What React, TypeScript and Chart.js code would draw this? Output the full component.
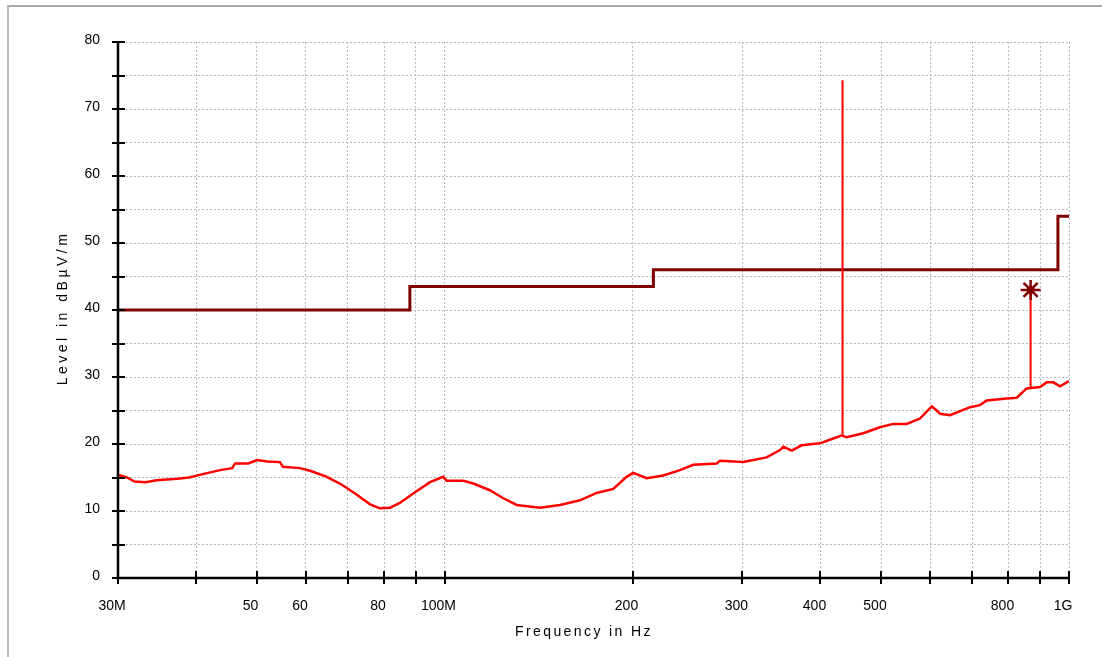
import React, { useEffect, useRef } from "react";
import { Chart, registerables } from "chart.js";

Chart.register(...registerables);

// Measurement trace (frequency in MHz, level in dBµV/m)
const traceFreqs = [
  30, 31.0, 31.9, 33.2, 34.6, 37.3, 39.0, 41.0, 43.7, 45.7, 46.2, 48.5, 50.1, 52.0, 54.5, 55.1,
  58.7, 60.9, 64.4, 68.0, 71.9, 76.0, 78.8, 81.8, 84.8, 89.7, 94.8, 99.5, 100.8, 107.2, 111.2,
  118.2, 124.2, 130.5, 142.2, 153.1, 164.8, 175.2, 186.3, 195.7, 200.5, 210.7, 224.0, 238.2,
  250.2, 272.8, 276.1, 300.9, 327.9, 344.5, 348.8, 359.7, 373.1, 399.2, 424.6, 432.4, 440.4,
  468.2, 498.0, 523.1, 549.6, 577.3, 602.8, 614.1, 621.6, 645.0, 669.3, 694.3, 720.3, 738.1,
  794.7, 824.6, 855.5, 898.6, 921.0, 943.9, 967.5, 1000,
];
const traceLevels = [
  15.4, 15.0, 14.4, 14.3, 14.6, 14.8, 15.0, 15.5, 16.1, 16.4, 17.1, 17.1, 17.6, 17.4, 17.3, 16.6,
  16.4, 16.0, 15.2, 14.1, 12.6, 11.0, 10.4, 10.5, 11.2, 12.8, 14.3, 15.1, 14.5, 14.5, 14.1,
  13.1, 11.9, 10.9, 10.5, 10.9, 11.6, 12.7, 13.3, 15.1, 15.7, 14.9, 15.3, 16.1,
  16.9, 17.1, 17.5, 17.3, 18.0, 19.1, 19.6, 19.0, 19.8, 20.1, 21.0, 21.3, 21.0,
  21.6, 22.5, 23.0, 23.0, 23.8, 25.6, 25.0, 24.5, 24.3, 24.9, 25.5, 25.8, 26.5,
  26.8, 26.9, 28.3, 28.5, 29.2, 29.2, 28.6, 29.4,
];

// Narrow-band spike
const spikeFreqs = [433.9, 433.9];
const spikeLevels = [21.3, 74.3];

// Marker (final measurement)
const markerFreqs = [868, 868];
const markerLevels = [28.5, 43.0];
const markerPointFreq = [868];
const markerPointLevel = [43.0];

// Limit line (stepped)
const limitFreqs = [30, 88, 88, 216, 216, 960, 960, 1000];
const limitLevels = [40, 40, 43.5, 43.5, 46, 46, 54, 54];

// Axes
const xTickValues = [30, 40, 50, 60, 70, 80, 90, 100, 200, 300, 400, 500, 600, 700, 800, 900, 1000];
const xTickLabels = ["30M", "", "50", "60", "", "80", "", "100M", "200", "300", "400", "500", "", "", "800", "", "1G"];
const yMin = 0;
const yMax = 80;
const yStep = 5;

const FONT = '"Liberation Sans", Arial, sans-serif';

const toPoints = (xs: number[], ys: number[]) => xs.map((x, i) => ({ x, y: ys[i] }));

const axesPlugin = {
  id: "customAxes",
  afterDatasetsDraw(chart: any) {
    const { ctx, chartArea } = chart;
    const xs = chart.scales.x;
    const ys = chart.scales.y;
    ctx.save();
    ctx.strokeStyle = "#000";
    ctx.lineWidth = 2.5;
    ctx.beginPath();
    ctx.moveTo(chartArea.left, chartArea.top);
    ctx.lineTo(chartArea.left, chartArea.bottom);
    ctx.lineTo(chartArea.right, chartArea.bottom);
    ctx.stroke();
    ctx.lineWidth = 2;
    for (let v = yMin; v <= yMax; v += yStep) {
      const py = Math.round(ys.getPixelForValue(v));
      ctx.beginPath();
      ctx.moveTo(chartArea.left - 6, py);
      ctx.lineTo(chartArea.left + 7, py);
      ctx.stroke();
    }
    for (const v of xTickValues) {
      const px = Math.round(xs.getPixelForValue(v));
      ctx.beginPath();
      ctx.moveTo(px, chartArea.bottom - 7);
      ctx.lineTo(px, chartArea.bottom + 6);
      ctx.stroke();
    }
    ctx.restore();
  },
  afterDraw(chart: any) {
    const { ctx } = chart;
    ctx.save();
    ctx.fillStyle = "#000";
    ctx.font = `14px ${FONT}`;
    ctx.textAlign = "center";
    ctx.textBaseline = "middle";
    (ctx as any).letterSpacing = "2.4px";
    ctx.fillText("Frequency in Hz", 584, 632);
    ctx.translate(63, 308);
    ctx.rotate(-Math.PI / 2);
    (ctx as any).letterSpacing = "3.5px";
    ctx.fillText("Level in dBµV/m", 0, 0);
    ctx.restore();
  },
};

export default function App() {
  const canvasRef = useRef<HTMLCanvasElement | null>(null);

  useEffect(() => {
    if (!canvasRef.current) return;
    const chart = new Chart(canvasRef.current, {
      type: "line",
      data: {
        datasets: [
          {
            data: toPoints(markerPointFreq, markerPointLevel),
            borderColor: "#800000",
            backgroundColor: "#800000",
            pointStyle: "star",
            pointRadius: 10,
            borderWidth: 2.5,
            showLine: false,
          } as any,
          {
            data: toPoints(markerPointFreq, markerPointLevel),
            borderColor: "#800000",
            backgroundColor: "#800000",
            pointStyle: "circle",
            pointRadius: 4,
            borderWidth: 0,
            showLine: false,
          } as any,
          {
            data: toPoints(markerFreqs, markerLevels),
            borderColor: "#ff0000",
            borderWidth: 2,
            pointRadius: 0,
          },
          {
            data: toPoints(spikeFreqs, spikeLevels),
            borderColor: "#ff0000",
            borderWidth: 2,
            pointRadius: 0,
          },
          {
            data: toPoints(traceFreqs, traceLevels),
            borderColor: "#ff0000",
            borderWidth: 2.5,
            pointRadius: 0,
            tension: 0,
          },
          {
            data: toPoints(limitFreqs, limitLevels),
            borderColor: "#800000",
            borderWidth: 3,
            pointRadius: 0,
            tension: 0,
          },
        ],
      },
      options: {
        animation: false,
        responsive: false,
        maintainAspectRatio: false,
        devicePixelRatio: 1,
        layout: { padding: { top: 42, right: 33, left: 0, bottom: 0 } },
        plugins: { legend: { display: false }, tooltip: { enabled: false } },
        scales: {
          x: {
            type: "logarithmic",
            min: 30,
            max: 1000,
            afterBuildTicks: (scale: any) => {
              scale.ticks = xTickValues.map((v) => ({ value: v }));
            },
            afterFit: (scale: any) => {
              scale.height = 79;
            },
            ticks: {
              autoSkip: false,
              maxRotation: 0,
              minRotation: 0,
              padding: 20,
              labelOffset: -6,
              color: "#000",
              font: { family: FONT, size: 14 },
              callback: (value: any) => {
                const i = xTickValues.indexOf(Number(value));
                return i >= 0 ? xTickLabels[i] : "";
              },
            },
            grid: {
              color: "#b8b8b8",
              lineWidth: 1,
              drawTicks: false,
            },
            border: { display: false, dash: [2, 2] },
          },
          y: {
            type: "linear",
            min: yMin,
            max: yMax,
            afterFit: (scale: any) => {
              scale.width = 118;
            },
            ticks: {
              stepSize: yStep,
              autoSkip: false,
              padding: 18,
              labelOffset: -2,
              color: "#000",
              font: { family: FONT, size: 14 },
              callback: (value: any) => (Number(value) % 10 === 0 ? String(value) : ""),
            },
            grid: {
              color: "#b8b8b8",
              lineWidth: 1,
              drawTicks: false,
            },
            border: { display: false, dash: [2, 2] },
          },
        },
      } as any,
      plugins: [axesPlugin],
    });
    return () => chart.destroy();
  }, []);

  return (
    <div style={{ position: "fixed", left: 0, top: 0, width: 1102, height: 657, background: "#fff", overflow: "hidden" }}>
      <div
        style={{
          position: "absolute",
          left: 7,
          top: 5,
          right: -4,
          bottom: -4,
          borderTop: "2px solid #a8a8a8",
          borderLeft: "2px solid #bcbcbc",
        }}
      />
      <canvas ref={canvasRef} width={1102} height={657} style={{ position: "absolute", left: 0, top: 0 }} />
    </div>
  );
}
